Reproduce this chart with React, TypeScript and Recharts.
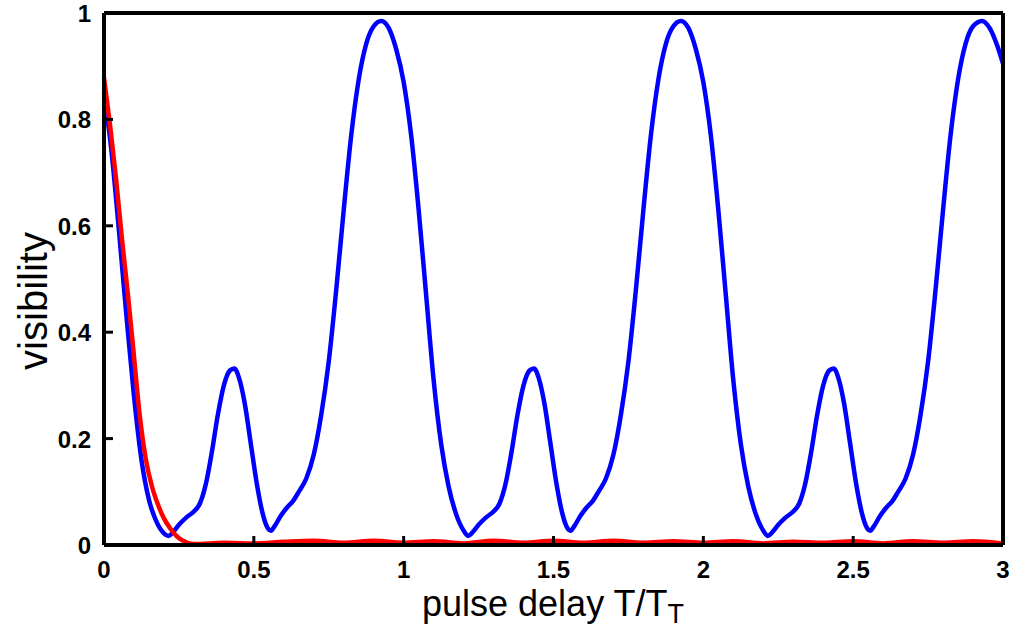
import { Label, Line, LineChart, XAxis, YAxis } from "recharts"

// [pulse delay T/T_T, visibility]
const blueCurve: [number, number][] = [
  [0, 0.85], [0.025, 0.74], [0.05, 0.59], [0.075, 0.43], [0.1, 0.28], [0.125, 0.16],
  [0.15, 0.085], [0.175, 0.044], [0.2, 0.022], [0.215, 0.017], [0.23, 0.024], [0.25, 0.038],
  [0.275, 0.052], [0.3, 0.063], [0.32, 0.078], [0.34, 0.115], [0.36, 0.175], [0.38, 0.245],
  [0.4, 0.3], [0.42, 0.328], [0.435, 0.332], [0.45, 0.315], [0.47, 0.265], [0.49, 0.19],
  [0.51, 0.115], [0.53, 0.058], [0.545, 0.033], [0.557, 0.027], [0.57, 0.036], [0.59, 0.055],
  [0.61, 0.07], [0.63, 0.082], [0.65, 0.1], [0.675, 0.125], [0.7, 0.17], [0.725, 0.245],
  [0.75, 0.345], [0.775, 0.48], [0.8, 0.63], [0.825, 0.77], [0.85, 0.875], [0.875, 0.942],
  [0.9, 0.975], [0.925, 0.985], [0.95, 0.972], [0.975, 0.932], [1.0, 0.87], [1.025, 0.77],
  [1.05, 0.63], [1.075, 0.47], [1.1, 0.31], [1.125, 0.19], [1.15, 0.11], [1.175, 0.058],
  [1.2, 0.027], [1.215, 0.017], [1.23, 0.024], [1.25, 0.038], [1.275, 0.052], [1.3, 0.063],
  [1.32, 0.078], [1.34, 0.115], [1.36, 0.175], [1.38, 0.245], [1.4, 0.3], [1.42, 0.328],
  [1.435, 0.332], [1.45, 0.315], [1.47, 0.265], [1.49, 0.19], [1.51, 0.115], [1.53, 0.058],
  [1.545, 0.033], [1.557, 0.027], [1.57, 0.036], [1.59, 0.055], [1.61, 0.07], [1.63, 0.082],
  [1.65, 0.1], [1.675, 0.125], [1.7, 0.17], [1.725, 0.245], [1.75, 0.345], [1.775, 0.48],
  [1.8, 0.63], [1.825, 0.77], [1.85, 0.875], [1.875, 0.942], [1.9, 0.975], [1.925, 0.985],
  [1.95, 0.972], [1.975, 0.932], [2.0, 0.87], [2.025, 0.77], [2.05, 0.63], [2.075, 0.47],
  [2.1, 0.31], [2.125, 0.19], [2.15, 0.11], [2.175, 0.058], [2.2, 0.027], [2.215, 0.017],
  [2.23, 0.024], [2.25, 0.038], [2.275, 0.052], [2.3, 0.063], [2.32, 0.078], [2.34, 0.115],
  [2.36, 0.175], [2.38, 0.245], [2.4, 0.3], [2.42, 0.328], [2.435, 0.332], [2.45, 0.315],
  [2.47, 0.265], [2.49, 0.19], [2.51, 0.115], [2.53, 0.058], [2.545, 0.033], [2.557, 0.027],
  [2.57, 0.036], [2.59, 0.055], [2.61, 0.07], [2.63, 0.082], [2.65, 0.1], [2.675, 0.125],
  [2.7, 0.17], [2.725, 0.245], [2.75, 0.345], [2.775, 0.48], [2.8, 0.63], [2.825, 0.77],
  [2.85, 0.875], [2.875, 0.942], [2.9, 0.975], [2.93, 0.985], [2.955, 0.972], [2.98, 0.94],
  [3.0, 0.905],
]

const redCurve: [number, number][] = [
  [0, 0.878], [0.02, 0.79], [0.04, 0.69], [0.06, 0.575], [0.08, 0.47], [0.1, 0.355],
  [0.12, 0.24], [0.14, 0.16], [0.16, 0.11], [0.18, 0.076], [0.2, 0.05], [0.22, 0.032],
  [0.24, 0.018], [0.26, 0.009], [0.28, 0.004], [0.3, 0.002], [0.4, 0.004], [0.5, 0.003],
  [0.6, 0.006], [0.7, 0.008], [0.8, 0.004], [0.9, 0.008], [1.0, 0.004], [1.1, 0.007],
  [1.2, 0.003], [1.3, 0.008], [1.4, 0.004], [1.5, 0.008], [1.6, 0.004], [1.7, 0.008],
  [1.8, 0.004], [1.9, 0.007], [2.0, 0.004], [2.1, 0.007], [2.2, 0.003], [2.3, 0.006],
  [2.4, 0.004], [2.5, 0.007], [2.6, 0.003], [2.7, 0.007], [2.8, 0.004], [2.9, 0.007],
  [3.0, 0.003],
]

const xTicks = [0, 0.5, 1, 1.5, 2, 2.5, 3]
const yTicks = [0, 0.2, 0.4, 0.6, 0.8, 1]

const blueData = blueCurve.map(([t, v]) => ({ t, v }))
const redData = redCurve.map(([t, v]) => ({ t, v }))

const FONT = "'Liberation Sans', Arial, sans-serif"
const TICK_LEN = 9

const fmt = (v: number) => String(v)

function BottomTick({ x, y, payload }: any) {
  return (
    <g>
      <line x1={x} y1={y} x2={x} y2={y - TICK_LEN} stroke="#000" strokeWidth={3} />
      <text x={x} y={y + 33} textAnchor="middle" fontSize={24} fontWeight="bold" fontFamily={FONT} fill="#000">
        {fmt(payload.value)}
      </text>
    </g>
  )
}

function TopTick({ x, y }: any) {
  return <line x1={x} y1={y} x2={x} y2={y + TICK_LEN} stroke="#000" strokeWidth={3} />
}

function LeftTick({ x, y, payload }: any) {
  return (
    <g>
      <line x1={x} y1={y} x2={x + TICK_LEN} y2={y} stroke="#000" strokeWidth={3} />
      <text x={x - 13} y={y + 9} textAnchor="end" fontSize={24} fontWeight="bold" fontFamily={FONT} fill="#000">
        {fmt(payload.value)}
      </text>
    </g>
  )
}

function RightTick({ x, y }: any) {
  return <line x1={x} y1={y} x2={x - TICK_LEN} y2={y} stroke="#000" strokeWidth={3} />
}

const axisLine = { stroke: "#000", strokeWidth: 4 }

export default function App() {
  return (
    <div style={{ position: "absolute", left: 0, top: 0, background: "#fff" }}>
      <LineChart width={1009} height={632} margin={{ top: 3, right: 1, bottom: 47, left: 44 }}>
        <XAxis
          dataKey="t"
          type="number"
          domain={[0, 3]}
          ticks={xTicks}
          height={40}
          tickSize={0}
          tickMargin={0}
          axisLine={axisLine}
          tickLine={false}
          tick={BottomTick}
          interval={0}
        >
          <Label
            content={() => (
              <text x={553} y={616} textAnchor="middle" fontSize={36} fontFamily={FONT} fill="#000">
                pulse delay T/T
                <tspan fontSize={27} dy={7}>T</tspan>
              </text>
            )}
          />
        </XAxis>
        <XAxis
          xAxisId="top"
          orientation="top"
          type="number"
          domain={[0, 3]}
          ticks={xTicks}
          height={10}
          tickSize={0}
          tickMargin={0}
          axisLine={axisLine}
          tickLine={false}
          tick={TopTick}
          interval={0}
        />
        <YAxis
          type="number"
          domain={[0, 1]}
          ticks={yTicks}
          width={60}
          tickSize={0}
          tickMargin={0}
          axisLine={axisLine}
          tickLine={false}
          tick={LeftTick}
          interval={0}
        >
          <Label
            content={() => (
              <text
                transform="translate(47,301) rotate(-90)"
                textAnchor="middle"
                fontSize={40}
                fontFamily={FONT}
                fill="#000"
              >
                visibility
              </text>
            )}
          />
        </YAxis>
        <YAxis
          yAxisId="right"
          orientation="right"
          type="number"
          domain={[0, 1]}
          ticks={yTicks}
          width={5}
          tickSize={0}
          tickMargin={0}
          axisLine={axisLine}
          tickLine={false}
          tick={RightTick}
          interval={0}
        />
        <Line
          data={blueData}
          dataKey="v"
          type="monotone"
          stroke="#0000ff"
          strokeWidth={4.5}
          dot={false}
          isAnimationActive={false}
        />
        <Line
          data={redData}
          dataKey="v"
          type="monotone"
          stroke="#ff0000"
          strokeWidth={4.5}
          dot={false}
          isAnimationActive={false}
        />
      </LineChart>
    </div>
  )
}
